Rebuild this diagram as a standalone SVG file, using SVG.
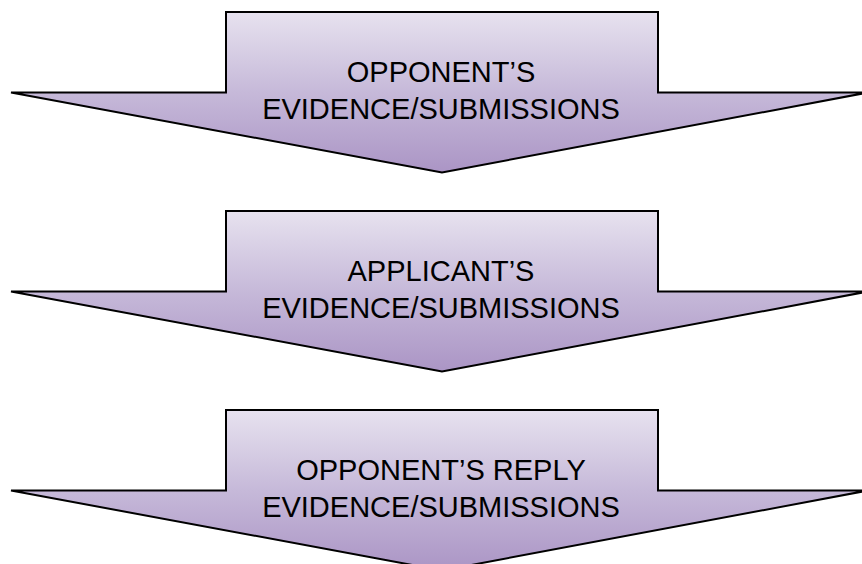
<svg xmlns="http://www.w3.org/2000/svg" width="862" height="564" viewBox="0 0 862 564">
<defs>
<linearGradient id="g" x1="0" y1="0" x2="0" y2="1">
<stop offset="0" stop-color="#e7e2ef"/>
<stop offset="0.5" stop-color="#c6b9d9"/>
<stop offset="1" stop-color="#ab95c5"/>
</linearGradient>
<polygon id="arrowShape" points="226,12 658,12 658,92.5 868,92.5 442,172.5 11,92.5 226,92.5"/>
</defs>
<style>
.arrow{fill:url(#g);stroke:#000;stroke-width:2;stroke-linejoin:miter}
.lbl{font-family:"Liberation Sans",Arial,sans-serif;font-size:29px;fill:#000;text-anchor:middle}
</style>
<rect width="862" height="564" fill="#fff"/>
<g id="step1">
<use href="#arrowShape" class="arrow"/>
<text class="lbl" x="441" y="82">OPPONENT’S</text>
<text class="lbl" x="441" y="119">EVIDENCE/SUBMISSIONS</text>
</g>
<g id="step2" transform="translate(0,199)">
<use href="#arrowShape" class="arrow"/>
<text class="lbl" x="441" y="82">APPLICANT’S</text>
<text class="lbl" x="441" y="119">EVIDENCE/SUBMISSIONS</text>
</g>
<g id="step3" transform="translate(0,398)">
<use href="#arrowShape" class="arrow"/>
<text class="lbl" x="441" y="82">OPPONENT’S REPLY</text>
<text class="lbl" x="441" y="119">EVIDENCE/SUBMISSIONS</text>
</g>
<g id="connectors"></g>
</svg>
